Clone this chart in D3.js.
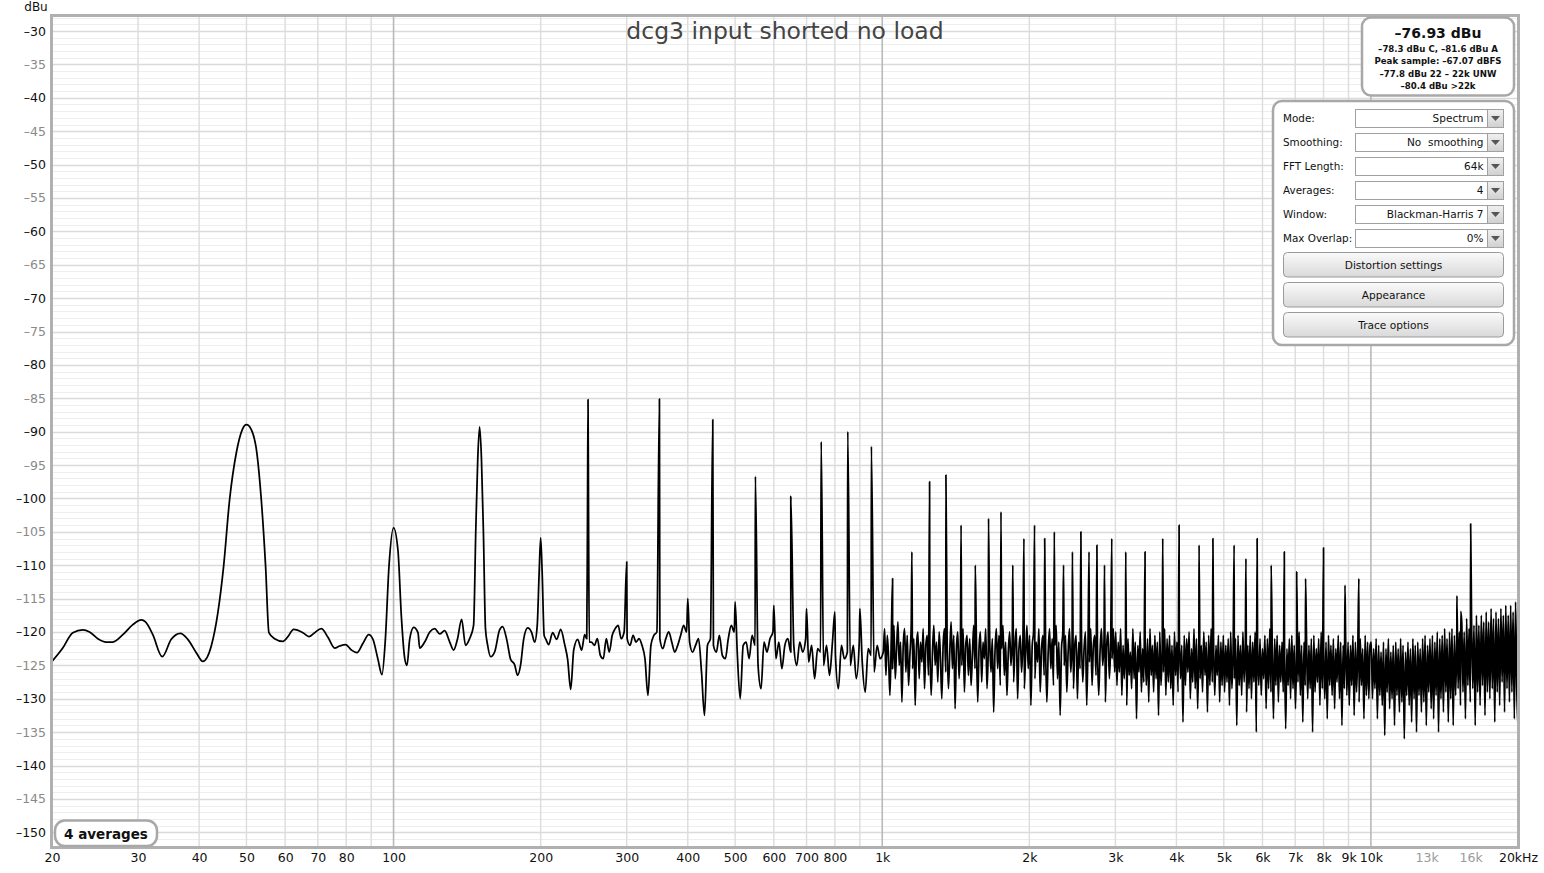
<!DOCTYPE html>
<html><head><meta charset="utf-8">
<script src="https://cdn.jsdelivr.net/npm/d3@7"></script>
<style>
body{margin:0;background:#fff;}
svg{display:block;font-family:"DejaVu Sans",sans-serif;}
svg text{white-space:pre;}
</style>
</head><body>
<svg id="chart" width="1544" height="873"></svg>
<script>
// ---------------- DATA ----------------
const chartTitle = "dcg3 input shorted no load";
const yAxisUnit = "dBu";

// smooth low-frequency part of the trace (Hz, dBu)
const lowHz = [20,21.04,22.06,23.13,23.87,24.82,25.82,26.63,27.92,29.27,30.45,31.07,32.16,33.62,35.08,36.6,37.93,39.47,40.71,42.36,43.7,44.89,46.18,47.66,49.03,50,51.15,52.52,53.62,54.72,55.58,57.1,59.38,60.79,62.44,65.24,67.11,68.94,71.15,73.41,75.76,77.57,79.79,81.97,84.16,86.57,88.93,90.75,92.91,94.68,96.21,97.86,100,102.1,103.75,105.38,106.53,107.89,109.95,112.2,113.1,115.8,118.6,121.4,124.3,127.2,130.3,132.7,135.2,137.8,140.4,143.1,145.8,147.3,148.7,150,151.3,152.7,154.2,155.8,158,161,164.8,167.2,170.4,173.6,176.9,179.4,182,184.6,188.1,191.7,194.4,196.8,198.6,200,201.4,203.3,205,207.7,211.6,215.7,219.8,224,227.1,230.4,233.7,238.1,242.6,246.1,248.5,249.4,250,250.6,251.5];
const lowDb = [-124.4,-122.4,-120.1,-119.7,-120,-121,-121.5,-121.5,-120.4,-118.9,-118.2,-118.5,-120.4,-123.7,-121.1,-120.2,-121.1,-123.1,-124.4,-122.1,-117.1,-110.2,-100.2,-93.2,-89.7,-88.96,-89.7,-93.2,-100.2,-110.2,-120.1,-121,-121.4,-120.7,-119.6,-120.1,-120.7,-120.1,-119.5,-120.8,-122.4,-122.1,-121.9,-122.7,-123.1,-121.7,-120.4,-121.1,-124.1,-126.4,-121.1,-110.2,-104.4,-107.8,-117.7,-123.9,-125,-121.1,-119.3,-120.1,-122.4,-121.5,-120,-119.5,-120.3,-119.8,-121.5,-122.7,-121,-118.1,-122,-121,-119,-105,-94,-89.3,-94,-105,-119.5,-122,-123.7,-123,-119.7,-119.2,-121.1,-124.1,-124.9,-126.5,-124.9,-121.1,-119.4,-120.1,-121.5,-119,-111,-105.9,-111,-120.5,-121.1,-121.9,-120.1,-121.1,-119.6,-121.9,-124.1,-128.6,-122.7,-121.1,-122.7,-120.4,-121,-102,-85.2,-102,-121.5];

// noise floor readings, evenly spaced (log) between the band limits
const band1Hz = [254, 990];
const band1Db = [-121.5,-122,-121,-123.5,-124,-121,-123,-120.5,-119.5,-119,-121,-120,-121,-122,-120.5,-121.5,-121,-122,-124,-129.5,-122,-120.5,-120,-121,-122.5,-121,-120,-121.5,-123,-122,-120.5,-119,-120,-121.5,-123,-122,-121,-126,-132.5,-122,-121,-122,-123,-120.5,-123.5,-124,-121,-119,-120,-123,-130,-122,-121.5,-124,-120.5,-122,-125,-128.5,-121.5,-123,-121,-120,-124,-121.5,-125.5,-122,-121,-123,-122,-125,-121.5,-123,-121,-124.5,-122,-127,-122.5,-123,-125,-122,-126.5,-121.5,-123.5,-128.5,-122,-124,-123,-125,-122,-127,-121.5,-124.5,-129,-122.5,-123.5,-126,-122,-124];
const band2Hz = [1005, 2990];
const band2Db = [-123,-119.5,-126.5,-120.5,-124,-129.5,-121,-125.5,-119,-127,
-122.5,-118.5,-125,-121.5,-130.5,-122,-119.5,-126,-120.5,-128,
-123.5,-119,-125.5,-121,-131,-122,-120,-127,-121.5,-124.5,
-119.5,-128.5,-122,-120.5,-126.5,-121,-129.5,-123,-119,-125,
-121.5,-127.5,-120,-124,-130,-122,-119.5,-126,-121,-128.5,
-123,-118.5,-125.5,-120.5,-131.5,-122.5,-120,-127,-121.5,-125,
-119.5,-129,-122,-120.5,-126.5,-121,-128,-123.5,-119,-125.5,
-121,-130.5,-122.5,-120,-127.5,-121.5,-124,-119.5,-128.5,-122,
-120.5,-126,-121,-132,-123,-119.5,-125.5,-120.5,-128,-122.5,
-119,-126.5,-121.5,-129.5,-123,-120,-125,-121,-127.5,-122,
-119.5,-130,-122.5,-120.5,-126,-121,-128.5,-123.5,-119,-125.5,
-120.5,-131,-122,-120,-127,-121.5,-124.5,-119.5,-129,-122.5,
-120.5,-126.5,-121,-130.5,-123,-119.5,-125.5,-121,-128,-122,
-119,-127,-121.5,-132.5,-122.5,-120,-125,-120.5,-129,-123,
-119.5,-126,-121,-128.5,-122,-120.5,-130,-121.5,-125.5,-119.5,
-127.5,-122.5,-120,-131,-121,-124.5,-119.5,-128,-122,-120.5,
-126.5,-121.5,-129.5,-123,-119.5,-125,-121,-130.5,-122,-120,
-127,-121.5,-124,-119.5,-126];
const band3Hz = [3005, 20000];
const band3Db = [-120,-128,-121.5,-126,-119.5,-129.5,-122,-127,-120.5,-131,-121,-126.5,-123,-128.5,-119.5,-127,-121.5,-133,-122,-126,-120,-129,-122.5,-127.5,-120.5,-128,-121,-130.5,-119.5,-126.5,-122,-129,-120.5,-127,-121.5,-132.5,-120,-128,-122.5,-126,-119.5,-129.5,-121,-127.5,-120.5,-128.5,-122,-131,-120,-126.5,-121.5,-129,-119.5,-127,-122,-133.5,-120.5,-128,-121,-126,-120,-130,-122.5,-127.5,-119.5,-128.5,-121,-131.5,-120.5,-127,-122,-129,-120,-126.5,-121.5,-132,-120.5,-128,-119.5,-127.5,-121,-129.5,-122,-126.5,-120.5,-130.5,-121.5,-128,
-120.5,-129,-122,-127.5,-121,-131,-120,-128.5,-122.5,-127,-121,-134,-120.5,-128,-122,-129.5,-120,-127.5,-121.5,-132,-122,-128.5,-120.5,-130,-121.5,-127.5,-120,-135,-122,-128,-121,-129.5,-122.5,-127,-120.5,-131.5,-121,-128.5,-119.5,-129,-122,-133,-121,-128,-120.5,-130.5,-122,-127.5,-121.5,-129,-120,-134.5,-122.5,-128,-121,-130,-120.5,-128.5,-122,-131.5,-121,-127.5,-120,-129.5,-122,-133.5,-121.5,-128,-120.5,-130,-122,-128.5,-121,-135,-120.5,-129,-122.5,-127.5,-121,-131,-120,-128.5,-122,-130,-121.5,-133,-120.5,-128,-122,-129.5,-121,-131.5,-122.5,-127.5,-120.5,-130,-121.5,-134,-122,-128.5,-120.5,-129.5,-121.5,-131,-122,-128,-120.5,-132.5,-121.5,-129,-122,-130.5,-121,-128,-122.5,-133,-120.5,-129.5,-121.5,-130,-122,
-121.5,-130,-122.5,-128.5,-121,-133,-122,-129.5,-123,-131,-121.5,-135.5,-122.5,-129,-121,-131.5,-123,-130,-122,-134,-121.5,-129.5,-122.5,-132,-121,-130.5,-122,-136,-123,-129.5,-121.5,-131,-122.5,-133.5,-121,-130,-122,-135,-121.5,-129.5,-122.5,-132,-121,-130.5,-120.5,-134,-122,-129,-121,-131.5,-120.5,-133,-121.5,-129.5,-120,-135,-121,-130,-120.5,-132,-119.5,-129,-121,-133.5,-120,-130,-119.5,-134,-120.5,-129.5,
-119,-128.5,-120,-131,-118.5,-129,-120,-133,-118,-128,-119.5,-130.5,-118,-128.5,-119,-134,-117.5,-129,-119,-131,-117.5,-128,-118.5,-132.5,-117,-129,-118.5,-130,-116.5,-128.5,-118,-133.5,-117,-129,-118,-131,-116.5,-127.5,-117.5,-132,-116,-128.5,-117.5,-130.5,-116,-129,-117,-133,-115.5,-128.5,-134];

// mains harmonics and other tones standing above the floor (Hz, dBu)
const toneHz = [300,350,400,450,500,550,600,650,700,750,800,850,900,950,1050,1150,1250,1350,1450,1550,1650,1750,1850,1950,2050,2150,2250,2350,2450,2550,2650,2750,2850,2950,3150,3450,3750,4050,4450,4750,5250,5550,5850,6250,6650,7050,7350,8000,8850,9450,15000,15270,16000];
const toneDb = [-109.5,-85.1,-115,-88.2,-115.5,-96.7,-116,-99.7,-116.5,-91.5,-117,-90,-116.5,-92.2,-112,-108,-97.5,-96.5,-104,-110,-103,-102,-110,-106,-104,-106,-105,-110,-108,-105,-108,-107,-110,-106,-108,-108,-106,-104,-107,-106,-107,-109,-106,-110,-108,-111,-112,-107.4,-113,-112,-114.6,-116.9,-103.8];

// axis ticks
const yTickValues = [-30,-35,-40,-45,-50,-55,-60,-65,-70,-75,-80,-85,-90,-95,-100,-105,-110,-115,-120,-125,-130,-135,-140,-145,-150];
const xTickValues = [20,30,40,50,60,70,80,100,200,300,400,500,600,700,800,1000,2000,3000,4000,5000,6000,7000,8000,9000,10000,13000,16000,20000];
const xTickLabels = ["20","30","40","50","60","70","80","100","200","300","400","500","600","700","800","1k","2k","3k","4k","5k","6k","7k","8k","9k","10k","13k","16k","20kHz"];
const xMinorLabelled = [13000,16000];

// readouts
const levelMain = "\u201376.93 dBu";
const levelLines = ["\u201378.3 dBu C, \u201381.6 dBu A","Peak sample: \u201367.07 dBFS","\u201377.8 dBu 22 \u2013 22k UNW","\u201380.4 dBu >22k"];
const ctrlLabels = ["Mode:","Smoothing:","FFT Length:","Averages:","Window:","Max Overlap:"];
const ctrlValues = ["Spectrum","No  smoothing","64k","4","Blackman-Harris 7","0%"];
const ctrlButtons = ["Distortion settings","Appearance","Trace options"];
const averagesNote = "4 averages";

// ---------------- DRAW ----------------
const svg = d3.select("#chart");
const X0 = 52, X1 = 1518, Y0 = 16, Y1 = 847;
const x = d3.scaleLog().domain([20, 20000]).range([X0, X1]);
const y = d3.scaleLinear().domain([-152.2, -27.75]).range([Y1, Y0]);

const defs = svg.append("defs");
defs.append("clipPath").attr("id","plotClip").append("rect")
  .attr("x",X0).attr("y",Y0).attr("width",X1-X0).attr("height",Y1-Y0);
const grad = defs.append("linearGradient").attr("id","btnGrad").attr("x1",0).attr("y1",0).attr("x2",0).attr("y2",1);
grad.append("stop").attr("offset","0%").attr("stop-color","#fafafa");
grad.append("stop").attr("offset","100%").attr("stop-color","#d9d9d9");
const grad2 = defs.append("linearGradient").attr("id","arrGrad").attr("x1",0).attr("y1",0).attr("x2",0).attr("y2",1);
grad2.append("stop").attr("offset","0%").attr("stop-color","#f0f0f0");
grad2.append("stop").attr("offset","100%").attr("stop-color","#d0d0d0");

// plot background
svg.append("rect").attr("x",X0).attr("y",Y0).attr("width",X1-X0).attr("height",Y1-Y0).attr("fill","#fff");

// horizontal grid (1 dB)
const hGrid = d3.range(-152, -27, 1);
svg.append("g").selectAll("line").data(hGrid).join("line")
  .attr("x1",X0).attr("x2",X1)
  .attr("y1",d=>Math.round(y(d))+0.5).attr("y2",d=>Math.round(y(d))+0.5)
  .attr("stroke",d=> d%5===0 ? "#dadada" : "#eeeeee")
  .attr("stroke-width",d=> d%5===0 ? 1.5 : 1.2);

// vertical grid
const vGrid = [];
[10,100,1000,10000].forEach(dec=>{ for(let k=1;k<=9;k++){ const v=dec*k; if(v>20 && v<20000) vGrid.push(v);} });
svg.append("g").selectAll("line").data(vGrid).join("line")
  .attr("y1",Y0).attr("y2",Y1)
  .attr("x1",d=>x(d)).attr("x2",d=>x(d))
  .attr("stroke",d=> (d===100||d===1000||d===10000) ? "#b9b9b9" : "#dcdcdc")
  .attr("stroke-width",d=> (d===100||d===1000||d===10000) ? 1.6 : 1.4);

// trace
const pts = [];
lowHz.forEach((f,i)=>pts.push({f, db: lowDb[i]}));
function addBand(range, vals){
  const n = vals.length, l0 = Math.log(range[0]), l1 = Math.log(range[1]);
  vals.forEach((v,i)=>pts.push({f: Math.exp(l0 + (l1-l0)*i/(n-1)), db: v}));
}
addBand(band1Hz, band1Db);
addBand(band2Hz, band2Db);
addBand(band3Hz, band3Db);
toneHz.forEach((f,i)=>pts.push({f, db: toneDb[i]}));
pts.sort((a,b)=>a.f-b.f);

const line = d3.line().x(d=>x(d.f)).y(d=>y(d.db)).curve(d3.curveMonotoneX);
svg.append("path").datum(pts).attr("clip-path","url(#plotClip)")
  .attr("d",line).attr("fill","none").attr("stroke","#000")
  .attr("stroke-width",1.75).attr("stroke-linejoin","round");

// frame
svg.append("rect").attr("x",X0-0.5).attr("y",Y0-0.5).attr("width",X1-X0+1).attr("height",Y1-Y0+1)
  .attr("fill","none").attr("stroke","#b0b0b0").attr("stroke-width",3);

// y axis labels
const yAxis = d3.axisLeft(y).tickValues(yTickValues).tickSize(0).tickPadding(0)
  .tickFormat(d=>"\u2013"+Math.abs(d));
const gy = svg.append("g").attr("transform",`translate(${X0-6},0)`).call(yAxis);
gy.select(".domain").remove();
gy.selectAll("text").attr("font-family","DejaVu Sans").attr("font-size",12.5)
  .attr("fill",d=> d%10===0 ? "#111" : "#8a8a8a");

// x axis labels
const xAxis = d3.axisBottom(x).tickValues(xTickValues).tickSize(0).tickPadding(0)
  .tickFormat((d,i)=>xTickLabels[i]);
const gx = svg.append("g").attr("transform",`translate(0,${Y1+6})`).call(xAxis);
gx.select(".domain").remove();
gx.selectAll("text").attr("font-family","DejaVu Sans").attr("font-size",12.5)
  .attr("fill",d=> xMinorLabelled.includes(d) ? "#9a9a9a" : "#111");

// unit label
svg.append("text").attr("x",36).attr("y",11).attr("text-anchor","middle")
  .attr("font-size",12).attr("fill","#111").text(yAxisUnit);

// title
svg.append("text").attr("x",(X0+X1)/2).attr("y",39).attr("text-anchor","middle")
  .attr("font-size",23.5).attr("fill","#444").text(chartTitle);

// level readout box
const rb = svg.append("g");
rb.append("rect").attr("x",1362).attr("y",17.5).attr("width",152).attr("height",78).attr("rx",9)
  .attr("fill","#fff").attr("stroke","#a8a8a8").attr("stroke-width",2.5);
rb.append("text").attr("x",1438).attr("y",37.5).attr("text-anchor","middle")
  .attr("font-size",14).attr("font-weight","bold").attr("fill","#111").text(levelMain);
levelLines.forEach((t,i)=>{
  rb.append("text").attr("x",1438).attr("y",51.5+i*12.6).attr("text-anchor","middle")
    .attr("font-size",8.6).attr("font-weight","bold").attr("fill","#111").text(t);
});

// control panel
const cp = svg.append("g");
cp.append("rect").attr("x",1273).attr("y",101).attr("width",241).attr("height",244).attr("rx",9)
  .attr("fill","#fff").attr("stroke","#a8a8a8").attr("stroke-width",2.5);
ctrlLabels.forEach((t,i)=>{
  const top = 109 + i*24;
  cp.append("text").attr("x",1283).attr("y",top+13).attr("font-size",10.4).attr("fill","#111").text(t);
  cp.append("rect").attr("x",1355.5).attr("y",top+0.5).attr("width",148).attr("height",18)
    .attr("fill","#fff").attr("stroke","#a0a0a0").attr("stroke-width",1);
  cp.append("rect").attr("x",1487.5).attr("y",top+0.5).attr("width",16).attr("height",18)
    .attr("fill","url(#arrGrad)").attr("stroke","#a0a0a0").attr("stroke-width",1);
  cp.append("path").attr("d",`M${1491},${top+7} L${1500},${top+7} L${1495.5},${top+12} Z`).attr("fill","#555");
  cp.append("text").attr("x",1483.5).attr("y",top+13).attr("text-anchor","end")
    .attr("font-size",10.5).attr("fill","#111").text(ctrlValues[i]);
});
ctrlButtons.forEach((t,i)=>{
  const top = 252.5 + i*30;
  cp.append("rect").attr("x",1283.5).attr("y",top).attr("width",220).attr("height",24.5).attr("rx",4)
    .attr("fill","url(#btnGrad)").attr("stroke","#9a9a9a").attr("stroke-width",1);
  cp.append("text").attr("x",1393.5).attr("y",top+16.2).attr("text-anchor","middle")
    .attr("font-size",10.6).attr("fill","#111").text(t);
});

// averages badge
const ab = svg.append("g");
ab.append("rect").attr("x",55).attr("y",820.5).attr("width",102).attr("height",25.5).attr("rx",10)
  .attr("fill","#fff").attr("stroke","#a8a8a8").attr("stroke-width",2.5);
ab.append("text").attr("x",106).attr("y",838.5).attr("text-anchor","middle")
  .attr("font-size",13.5).attr("font-weight","bold").attr("fill","#111").text(averagesNote);
</script>
</body></html>
